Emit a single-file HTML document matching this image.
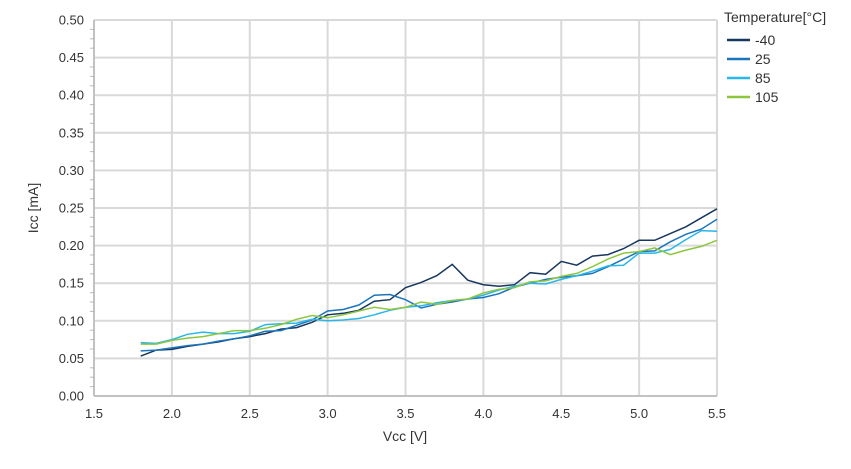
<!DOCTYPE html>
<html><head><meta charset="utf-8"><style>
body{margin:0;background:#fff;}
svg{display:block;font-family:"Segoe UI","Liberation Sans",sans-serif;}
</style></head><body>
<svg id="s" width="851" height="469" xmlns="http://www.w3.org/2000/svg"></svg>
<script>
const s=document.getElementById('s');
const X=v=>94+(v-1.5)*155.75, Y=v=>396-v*752;
let h='';
for(let i=0;i<=8;i++){const x=X(1.5+i*0.5);h+=`<line x1="${x}" y1="20" x2="${x}" y2="396" stroke="#d9d9d9" stroke-width="2"/>`;
h+=`<text x="${x}" y="418" font-size="13" text-anchor="middle" fill="#333">${(1.5+i*0.5).toFixed(1)}</text>`;}
for(let i=0;i<=10;i++){const y=Y(i*0.05);h+=`<line x1="94" y1="${y}" x2="717" y2="${y}" stroke="#d9d9d9" stroke-width="2"/>`;
h+=`<text x="84" y="${y+4.5}" font-size="13" text-anchor="end" fill="#333">${(i*0.05).toFixed(2)}</text>`;}
for(let i=0;i<40;i++){const y=Y(i*0.0125);if(i%4)h+=`<line x1="90" y1="${y}" x2="94" y2="${y}" stroke="#bbb"/>`;}
h+=`<line x1="94" y1="20" x2="94" y2="396" stroke="#aaa"/><line x1="94" y1="396" x2="717" y2="396" stroke="#aaa"/>`;
const D={
"#17375e":[0.053,0.061,0.062,0.066,0.069,0.072,0.076,0.079,0.083,0.089,0.091,0.098,0.108,0.110,0.114,0.126,0.128,0.144,0.151,0.160,0.175,0.154,0.148,0.146,0.148,0.164,0.162,0.179,0.174,0.186,0.188,0.196,0.207,0.207,0.216,0.225,0.237,0.249],
"#1b75bb":[0.060,0.061,0.064,0.067,0.069,0.073,0.076,0.080,0.086,0.087,0.094,0.101,0.113,0.115,0.121,0.134,0.135,0.128,0.117,0.122,0.125,0.129,0.131,0.136,0.145,0.150,0.155,0.158,0.160,0.163,0.172,0.182,0.192,0.193,0.205,0.215,0.222,0.235],
"#29b6e8":[0.071,0.070,0.075,0.082,0.085,0.083,0.083,0.086,0.095,0.096,0.097,0.102,0.100,0.101,0.103,0.108,0.114,0.118,0.120,0.124,0.127,0.129,0.134,0.141,0.146,0.150,0.149,0.155,0.160,0.166,0.173,0.174,0.190,0.190,0.195,0.208,0.220,0.219],
"#8cc63f":[0.069,0.069,0.074,0.077,0.079,0.083,0.087,0.087,0.090,0.095,0.102,0.107,0.104,0.108,0.113,0.118,0.115,0.118,0.125,0.122,0.127,0.129,0.137,0.142,0.144,0.152,0.153,0.159,0.163,0.172,0.182,0.190,0.192,0.197,0.188,0.194,0.199,0.207]};
for(const c in D){h+=`<polyline fill="none" stroke="${c}" stroke-width="1.5" points="${D[c].map((v,i)=>X(1.8+i*0.1).toFixed(1)+','+Y(v).toFixed(1)).join(' ')}"/>`;}
h+=`<text x="405" y="441" font-size="14" text-anchor="middle" fill="#333">Vcc [V]</text>`;
h+=`<text transform="translate(38,208) rotate(-90)" font-size="14" text-anchor="middle" fill="#333">Icc [mA]</text>`;
h+=`<text x="724" y="22" font-size="14" fill="#333">Temperature[°C]</text>`;
[["-40","#17375e"],["25","#1b75bb"],["85","#29b6e8"],["105","#8cc63f"]].forEach((l,i)=>{const y=40+i*19;
h+=`<line x1="727" y1="${y}" x2="750" y2="${y}" stroke="${l[1]}" stroke-width="2.5"/><text x="755" y="${y+5}" font-size="14" fill="#333">${l[0]}</text>`;});
s.innerHTML=h;
</script>
</body></html>
